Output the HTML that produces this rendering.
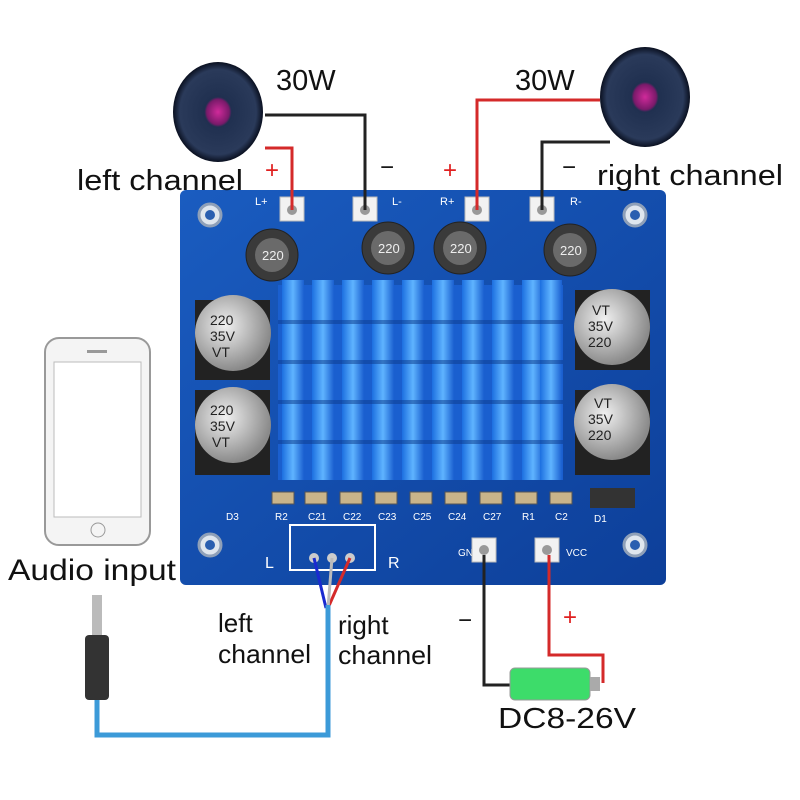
<!DOCTYPE html>
<html><head><meta charset="utf-8"><style>
html,body{margin:0;padding:0;background:#fff;}
svg{display:block;font-family:"Liberation Sans",sans-serif;}
</style></head><body>
<svg width="800" height="800" viewBox="0 0 800 800" xmlns="http://www.w3.org/2000/svg">
<defs>
<linearGradient id="pcb" x1="0" y1="0" x2="1" y2="1"><stop offset="0" stop-color="#1a5cc0"/><stop offset="1" stop-color="#0d3f99"/></linearGradient>
<linearGradient id="fin" x1="0" y1="0" x2="1" y2="0"><stop offset="0" stop-color="#1c6fe0"/><stop offset="0.5" stop-color="#5fb4ff"/><stop offset="1" stop-color="#1a5fd0"/></linearGradient>
<radialGradient id="spk" cx="0.5" cy="0.5" r="0.5"><stop offset="0" stop-color="#d02a9a"/><stop offset="0.25" stop-color="#7a1a6a"/><stop offset="0.3" stop-color="#203050"/><stop offset="0.85" stop-color="#2a3a5a"/><stop offset="1" stop-color="#0a1020"/></radialGradient>
<radialGradient id="cap" cx="0.4" cy="0.4" r="0.6"><stop offset="0" stop-color="#f0f0f0"/><stop offset="1" stop-color="#8a8a8a"/></radialGradient>
</defs>
<rect x="180" y="190" width="486" height="395" rx="6" fill="url(#pcb)"/>
<g fill="#dfe6ee" stroke="#8fa0b8" stroke-width="3">
<circle cx="210" cy="215" r="11"/><circle cx="635" cy="215" r="11"/>
<circle cx="210" cy="545" r="11"/><circle cx="635" cy="545" r="11"/></g>
<g fill="#2a5fb0"><circle cx="210" cy="215" r="5"/><circle cx="635" cy="215" r="5"/><circle cx="210" cy="545" r="5"/><circle cx="635" cy="545" r="5"/></g>
<g fill="#f2f2f2" stroke="#bbb"><rect x="280" y="197" width="24" height="24"/><rect x="353" y="197" width="24" height="24"/><rect x="465" y="197" width="24" height="24"/><rect x="530" y="197" width="24" height="24"/></g>
<g fill="#999"><circle cx="292" cy="210" r="5"/><circle cx="365" cy="210" r="5"/><circle cx="477" cy="210" r="5"/><circle cx="542" cy="210" r="5"/></g>
<g fill="#fff" font-size="11"><text x="255" y="205">L+</text><text x="392" y="205">L-</text><text x="440" y="205">R+</text><text x="570" y="205">R-</text></g>
<g fill="#3a3a3a" stroke="#222"><circle cx="272" cy="255" r="26"/><circle cx="388" cy="248" r="26"/><circle cx="460" cy="248" r="26"/><circle cx="570" cy="250" r="26"/></g>
<g fill="#6a6a6a"><circle cx="272" cy="255" r="17"/><circle cx="388" cy="248" r="17"/><circle cx="460" cy="248" r="17"/><circle cx="570" cy="250" r="17"/></g>
<g fill="#eee" font-size="13"><text x="262" y="260">220</text><text x="378" y="253">220</text><text x="450" y="253">220</text><text x="560" y="255">220</text></g>
<g><rect x="195" y="300" width="75" height="80" fill="#222"/><circle cx="233" cy="333" r="38" fill="url(#cap)"/>
<rect x="195" y="390" width="75" height="85" fill="#222"/><circle cx="233" cy="425" r="38" fill="url(#cap)"/>
<rect x="575" y="290" width="75" height="80" fill="#222"/><circle cx="612" cy="327" r="38" fill="url(#cap)"/>
<rect x="575" y="390" width="75" height="85" fill="#222"/><circle cx="612" cy="422" r="38" fill="url(#cap)"/></g>
<g font-size="14" fill="#222"><text x="210" y="325">220</text><text x="210" y="341">35V</text><text x="212" y="357">VT</text>
<text x="210" y="415">220</text><text x="210" y="431">35V</text><text x="212" y="447">VT</text>
<text x="592" y="315">VT</text><text x="588" y="331">35V</text><text x="588" y="347">220</text>
<text x="594" y="408">VT</text><text x="588" y="424">35V</text><text x="588" y="440">220</text></g>
<rect x="278" y="285" width="285" height="195" fill="#1a5fcf"/>
<g fill="url(#fin)">
<rect x="282" y="280" width="22" height="200"/><rect x="312" y="280" width="22" height="200"/><rect x="342" y="280" width="22" height="200"/><rect x="372" y="280" width="22" height="200"/><rect x="402" y="280" width="22" height="200"/><rect x="432" y="280" width="22" height="200"/><rect x="462" y="280" width="22" height="200"/><rect x="492" y="280" width="22" height="200"/><rect x="522" y="280" width="22" height="200"/><rect x="540" y="280" width="22" height="200"/></g>
<g fill="#0d3a8a" opacity="0.5"><rect x="278" y="320" width="285" height="4"/><rect x="278" y="360" width="285" height="4"/><rect x="278" y="400" width="285" height="4"/><rect x="278" y="440" width="285" height="4"/></g>
<g fill="#c9b48a" stroke="#555"><rect x="272" y="492" width="22" height="12"/><rect x="305" y="492" width="22" height="12"/><rect x="340" y="492" width="22" height="12"/><rect x="375" y="492" width="22" height="12"/><rect x="410" y="492" width="22" height="12"/><rect x="445" y="492" width="22" height="12"/><rect x="480" y="492" width="22" height="12"/><rect x="515" y="492" width="22" height="12"/><rect x="550" y="492" width="22" height="12"/></g>
<rect x="590" y="488" width="45" height="20" fill="#333"/>
<g fill="#fff" font-size="10"><text x="275" y="520">R2</text><text x="308" y="520">C21</text><text x="343" y="520">C22</text><text x="378" y="520">C23</text><text x="413" y="520">C25</text><text x="448" y="520">C24</text><text x="483" y="520">C27</text><text x="522" y="520">R1</text><text x="555" y="520">C2</text><text x="226" y="520">D3</text><text x="594" y="522">D1</text><text x="458" y="556">GND</text><text x="566" y="556">VCC</text></g>
<rect x="290" y="525" width="85" height="45" fill="none" stroke="#fff" stroke-width="2"/>
<g fill="#ccc"><circle cx="314" cy="558" r="5"/><circle cx="332" cy="558" r="5"/><circle cx="350" cy="558" r="5"/></g>
<text x="265" y="568" fill="#fff" font-size="16">L</text><text x="388" y="568" fill="#fff" font-size="16">R</text>
<g fill="#f2f2f2" stroke="#bbb"><rect x="472" y="538" width="24" height="24"/><rect x="535" y="538" width="24" height="24"/></g>
<g fill="#999"><circle cx="484" cy="550" r="5"/><circle cx="547" cy="550" r="5"/></g>
<g fill="none" stroke-width="3">
<polyline points="292,210 292,148 265,148" stroke="#d42a2a"/>
<polyline points="365,210 365,115 265,115" stroke="#222"/>
<polyline points="477,210 477,100 600,100" stroke="#d42a2a"/>
<polyline points="542,210 542,142 610,142" stroke="#222"/>
<polyline points="484,555 484,685 510,685" stroke="#222"/>
<polyline points="549,555 549,655 603,655 603,683" stroke="#d42a2a"/>
<polyline points="314,558 326,608" stroke="#1a2ad0"/>
<polyline points="350,558 328,608" stroke="#d42a2a"/>
<polyline points="332,558 328,608" stroke="#bbb"/>
<polyline points="328,605 328,735 97,735 97,700" stroke="#3c9ad8" stroke-width="5"/>
</g>
<ellipse cx="218" cy="112" rx="45" ry="50" fill="url(#spk)"/>
<ellipse cx="645" cy="97" rx="45" ry="50" fill="url(#spk)"/>
<rect x="45" y="338" width="105" height="207" rx="14" fill="#f4f4f4" stroke="#999" stroke-width="2"/>
<rect x="54" y="362" width="87" height="155" fill="#fff" stroke="#bbb"/>
<circle cx="98" cy="530" r="7" fill="none" stroke="#999"/>
<rect x="87" y="350" width="20" height="3" fill="#999"/>
<rect x="92" y="595" width="10" height="40" fill="#bbb"/>
<rect x="85" y="635" width="24" height="65" rx="4" fill="#333"/>
<rect x="510" y="668" width="80" height="32" rx="5" fill="#3ddc6a" stroke="#999"/>
<rect x="590" y="677" width="10" height="14" fill="#aaa"/>
<g fill="#111">
<text x="276" y="90" font-size="29">30W</text><text x="515" y="90" font-size="29">30W</text>
<text x="77" y="190" font-size="29" textLength="166" lengthAdjust="spacingAndGlyphs">left channel</text>
<text x="597" y="185" font-size="29" textLength="186" lengthAdjust="spacingAndGlyphs">right channel</text>
<text x="8" y="580" font-size="30" textLength="168" lengthAdjust="spacingAndGlyphs">Audio input</text>
<text x="498" y="728" font-size="29" textLength="138" lengthAdjust="spacingAndGlyphs">DC8-26V</text></g>
<g fill="#111" font-size="26"><text x="218" y="632">left</text><text x="218" y="663" textLength="93" lengthAdjust="spacingAndGlyphs">channel</text><text x="338" y="634">right</text><text x="338" y="664" textLength="94" lengthAdjust="spacingAndGlyphs">channel</text></g>
<g fill="#e02020" font-size="24"><text x="265" y="178">+</text><text x="443" y="178">+</text><text x="563" y="625">+</text></g>
<g fill="#111" font-size="24"><text x="380" y="175">−</text><text x="562" y="175">−</text><text x="458" y="628">−</text></g>
</svg>
</body></html>
